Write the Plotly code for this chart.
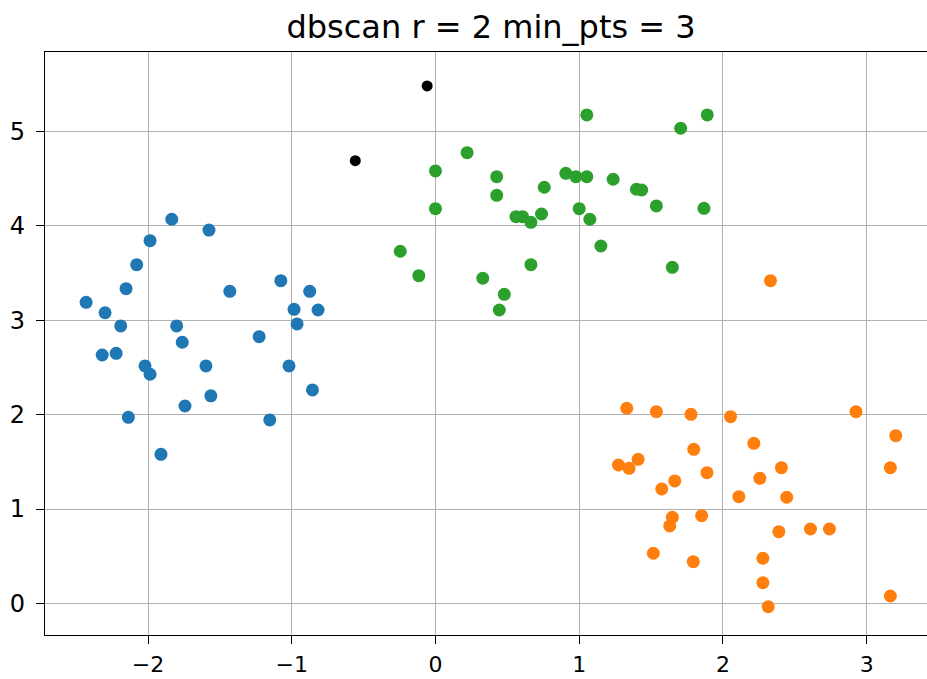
import plotly.graph_objects as go

# Cluster 0 (blue)
blue_x = [-1.835, -1.576, -1.986, -2.079, -2.153, -2.431, -2.299, -2.19, -2.319, -2.222,
          -2.021, -1.986, -2.137, -1.91, -1.801, -1.762, -1.743, -1.597, -1.563, -1.431,
          -1.227, -1.153, -1.076, -0.984, -0.963, -1.019, -0.875, -0.817, -0.856]
blue_y = [4.07, 3.956, 3.843, 3.589, 3.335, 3.19, 3.08, 2.94, 2.632, 2.65,
          2.516, 2.428, 1.972, 1.58, 2.94, 2.767, 2.092, 2.516, 2.20, 3.307,
          2.826, 1.944, 3.42, 3.116, 2.961, 2.516, 3.307, 3.109, 2.262]

# Cluster 1 (orange)
orange_x = [2.331, 1.331, 1.537, 1.778, 2.053, 2.215, 1.797, 1.273, 1.347, 1.41,
            1.889, 1.665, 1.574, 2.111, 1.648, 1.63, 1.852, 1.516, 1.794, 2.926,
            3.203, 3.165, 2.407, 2.257, 2.444, 2.389, 2.609, 2.741, 2.278, 2.278,
            2.315, 3.165]
orange_y = [3.42, 2.068, 2.032, 2.004, 1.979, 1.697, 1.633, 1.467, 1.432, 1.527,
            1.386, 1.298, 1.213, 1.131, 0.913, 0.821, 0.93, 0.532, 0.443, 2.032,
            1.778, 1.439, 1.439, 1.326, 1.125, 0.761, 0.789, 0.789, 0.479, 0.22,
            -0.034, 0.079]

# Cluster 2 (green)
green_x = [1.053, 1.891, 1.706, 0.22, 0.0, 0.0, 0.426, 0.426, 0.757, 0.56,
           0.606, 0.664, 0.738, 0.907, 0.977, 1.053, 1.236, 1.398, 1.435, 1.537,
           1.868, 1.0, 1.074, 1.151, 1.648, 0.664, -0.245, -0.116, 0.329, 0.479,
           0.444]
green_y = [5.175, 5.175, 5.034, 4.776, 4.582, 4.182, 4.521, 4.324, 4.409, 4.098,
           4.098, 4.038, 4.126, 4.557, 4.521, 4.521, 4.494, 4.388, 4.38, 4.211,
           4.186, 4.182, 4.07, 3.787, 3.561, 3.589, 3.731, 3.473, 3.445, 3.275,
           3.109]

# Noise (black)
noise_x = [-0.058, -0.558]
noise_y = [5.482, 4.691]

x_ticks = [-2, -1, 0, 1, 2, 3]
x_tick_text = ["\u22122", "\u22121", "0", "1", "2", "3"]
y_ticks = [0, 1, 2, 3, 4, 5]
y_tick_text = ["0", "1", "2", "3", "4", "5"]

fig = go.Figure()
for xs, ys, col, sz in [(blue_x, blue_y, "#1f77b4", 13),
                        (orange_x, orange_y, "#ff7f0e", 13),
                        (green_x, green_y, "#2ca02c", 13),
                        (noise_x, noise_y, "#000000", 11)]:
    fig.add_trace(go.Scatter(x=xs, y=ys, mode="markers",
                             marker=dict(color=col, size=sz, line=dict(width=0)),
                             showlegend=False))

axis_common = dict(showgrid=True, gridcolor="#b0b0b0", gridwidth=1.3,
                   showline=True, linecolor="black", linewidth=1.3,
                   ticks="outside", ticklen=8, tickwidth=1.3, tickcolor="black",
                   zeroline=False, automargin=False)

fig.update_layout(
    template="none",
    width=927, height=679,
    margin=dict(l=45, r=0, t=52, b=44, pad=0),
    paper_bgcolor="white", plot_bgcolor="white",
    title=dict(text="dbscan r = 2 min_pts = 3", x=0.5297, xanchor="center",
               xref="container", yref="container",
               y=1 - 27.0 / 679, yanchor="middle",
               font=dict(family="DejaVu Sans", size=32, color="black")),
    xaxis=dict(range=[-2.717, 3.42], tickvals=x_ticks, ticktext=x_tick_text,
               mirror=True, ticklabelstandoff=1,
               tickfont=dict(family="DejaVu Sans", size=22, color="black"),
               **axis_common),
    yaxis=dict(range=[-0.334, 5.842], tickvals=y_ticks, ticktext=y_tick_text,
               mirror=False, ticklabelstandoff=6,
               tickfont=dict(family="DejaVu Sans", size=24, color="black"),
               **axis_common),
)

fig.write_html("out.html",
               config={"displayModeBar": False},
               post_script="document.body.style.margin='0';document.body.style.overflow='hidden';")
